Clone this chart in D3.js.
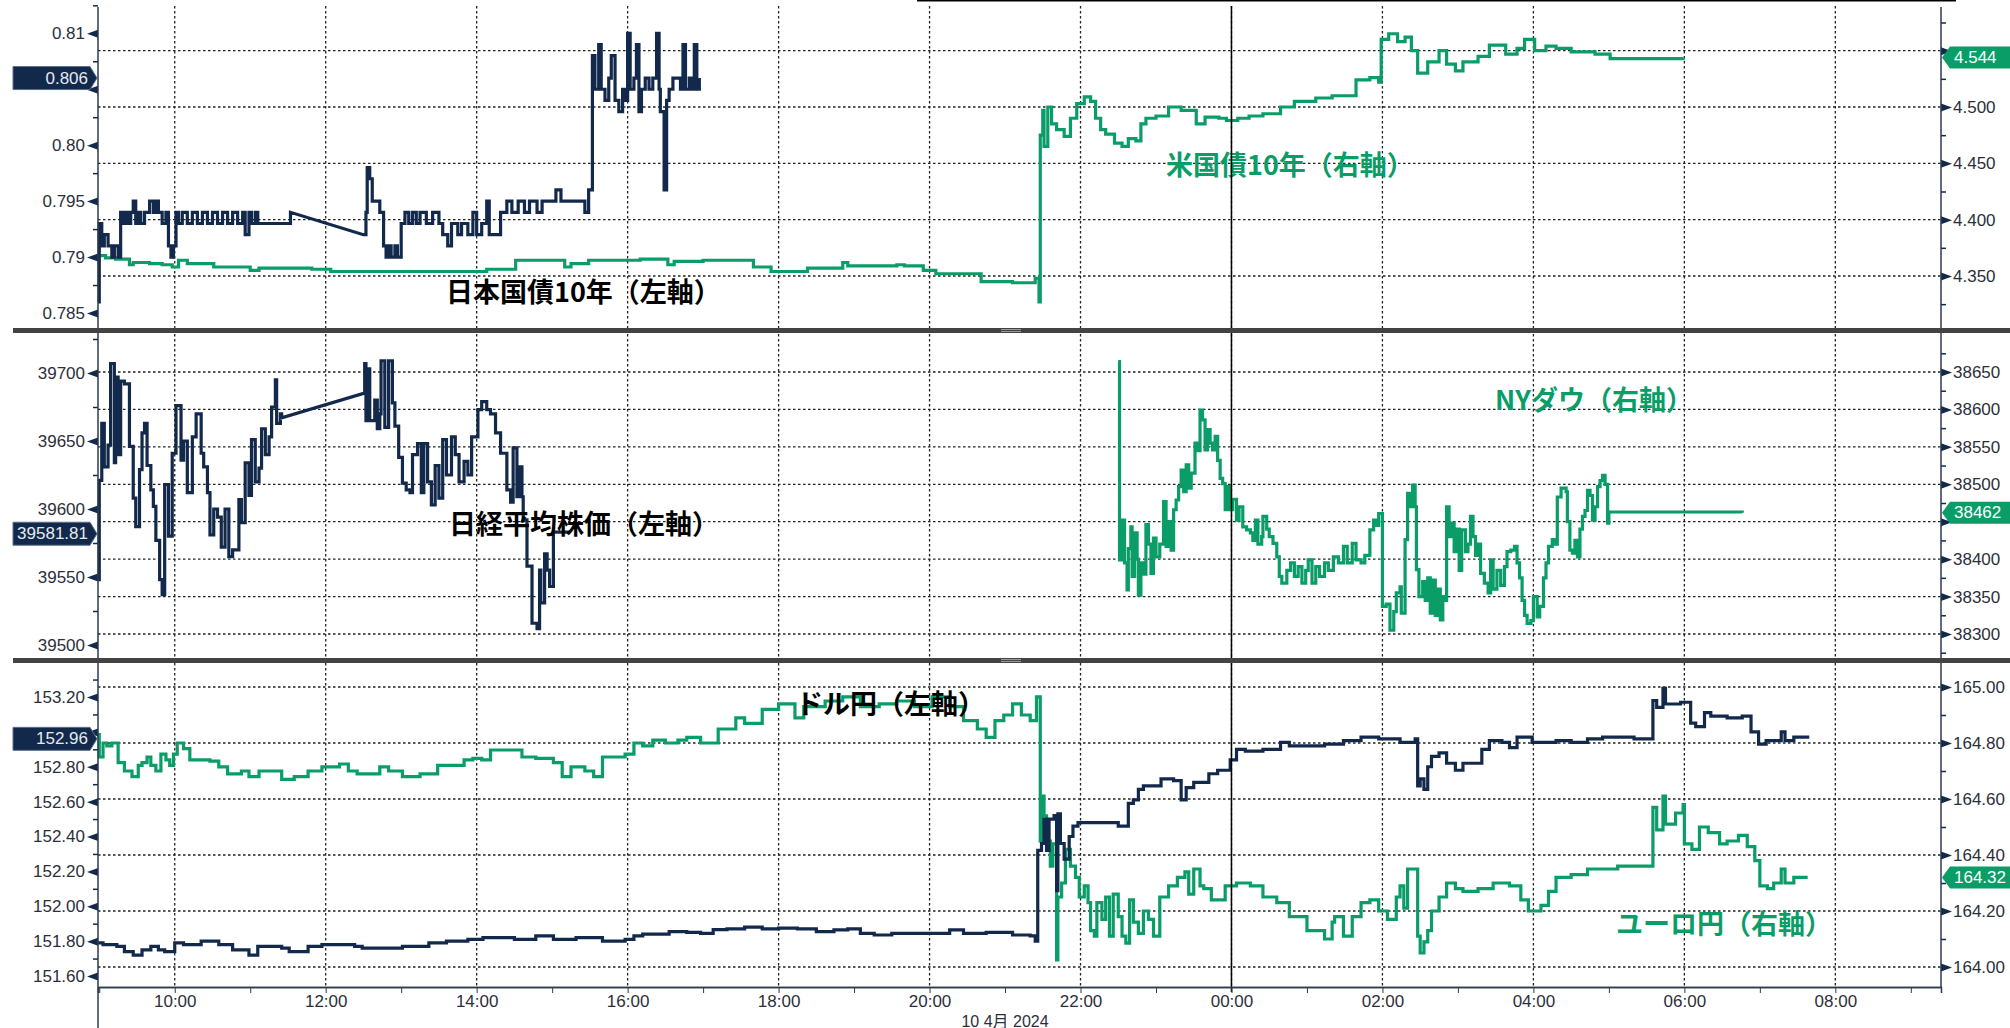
<!DOCTYPE html>
<html>
<head>
<meta charset="utf-8">
<script src="https://cdn.jsdelivr.net/npm/d3@7"></script>
<style>
  body { margin: 0; background: #fff; }
  svg text { font-family: "Liberation Sans", Arial, sans-serif; }
  .note { font-family: "Noto Sans CJK JP", sans-serif; font-weight: 700; font-size: 27px; }
</style>
</head>
<body>
<svg id="chart" width="2010" height="1028"></svg>
<script>
// 時刻は JST、日付をまたぐと翌日扱い
var jgb10y = [["08:59",0.786],["09:00",0.793],["09:02",0.791],["09:04",0.792],["09:07",0.791],["09:10",0.790],["09:12",0.791],["09:15",0.790],["09:17",0.794],["09:19",0.793],["09:21",0.794],["09:23",0.793],["09:25",0.794],["09:27",0.795],["09:29",0.793],["09:31",0.794],["09:33",0.793],["09:36",0.794],["09:40",0.795],["09:43",0.794],["09:45",0.795],["09:47",0.794],["09:50",0.793],["09:53",0.794],["09:55",0.791],["09:57",0.790],["09:59",0.791],["10:01",0.794],["10:03",0.793],["10:06",0.794],["10:10",0.793],["10:14",0.794],["10:18",0.793],["10:22",0.794],["10:26",0.793],["10:30",0.794],["10:34",0.793],["10:38",0.794],["10:42",0.793],["10:46",0.794],["10:50",0.793],["10:54",0.794],["10:56",0.792],["10:59",0.794],["11:01",0.793],["11:04",0.794],["11:06",0.793],["11:32",0.794],["12:30",0.792],["12:32",0.794],["12:33",0.798],["12:35",0.797],["12:37",0.795],["12:43",0.794],["12:46",0.791],["12:48",0.790],["12:50",0.791],["12:52",0.790],["12:55",0.791],["12:57",0.790],["13:00",0.793],["13:03",0.794],["13:06",0.793],["13:09",0.794],["13:12",0.793],["13:15",0.794],["13:20",0.793],["13:25",0.794],["13:30",0.793],["13:33",0.792],["13:37",0.791],["13:40",0.793],["13:45",0.792],["13:48",0.793],["13:53",0.792],["13:57",0.794],["14:00",0.792],["14:04",0.793],["14:08",0.795],["14:10",0.792],["14:19",0.794],["14:24",0.795],["14:28",0.794],["14:33",0.795],["14:38",0.794],["14:42",0.795],["14:48",0.794],["14:52",0.795],["15:03",0.796],["15:07",0.795],["15:26",0.794],["15:29",0.796],["15:32",0.808],["15:34",0.805],["15:37",0.809],["15:39",0.805],["15:42",0.804],["15:45",0.806],["15:47",0.808],["15:50",0.804],["15:53",0.803],["15:56",0.805],["15:58",0.804],["16:00",0.810],["16:02",0.805],["16:05",0.806],["16:07",0.809],["16:09",0.803],["16:11",0.805],["16:14",0.806],["16:17",0.805],["16:20",0.806],["16:23",0.810],["16:25",0.805],["16:26",0.803],["16:29",0.796],["16:31",0.804],["16:33",0.805],["16:36",0.806],["16:39",0.806],["16:42",0.805],["16:44",0.809],["16:46",0.805],["16:49",0.806],["16:51",0.805],["16:53",0.809],["16:55",0.805],["16:57",0.806]];

var ust10y = [["08:59",4.368],["09:05",4.366],["09:13",4.365],["09:24",4.360],["09:27",4.362],["09:40",4.361],["09:50",4.360],["09:58",4.358],["10:03",4.364],["10:10",4.361],["10:20",4.361],["10:31",4.358],["10:45",4.358],["11:00",4.355],["11:07",4.357],["11:30",4.357],["11:49",4.356],["12:04",4.354],["12:40",4.354],["13:30",4.354],["14:08",4.356],["14:31",4.364],["14:50",4.364],["15:10",4.358],["15:15",4.361],["15:29",4.364],["15:50",4.364],["16:10",4.365],["16:32",4.360],["16:37",4.363],["17:00",4.364],["17:20",4.364],["17:40",4.358],["17:54",4.354],["18:23",4.357],["18:51",4.362],["18:55",4.359],["19:34",4.360],["19:40",4.359],["19:55",4.355],["20:05",4.352],["20:41",4.345],["21:06",4.344],["21:24",4.348],["21:27",4.327],["21:28",4.475],["21:30",4.497],["21:31",4.465],["21:34",4.500],["21:37",4.485],["21:41",4.480],["21:47",4.474],["21:52",4.490],["21:57",4.503],["22:03",4.509],["22:08",4.505],["22:12",4.490],["22:16",4.480],["22:20",4.476],["22:27",4.468],["22:33",4.465],["22:38",4.472],["22:44",4.470],["22:48",4.485],["22:52",4.490],["23:00",4.492],["23:10",4.500],["23:20",4.497],["23:32",4.485],["23:39",4.491],["23:50",4.490],["23:56",4.488],["00:05",4.490],["00:14",4.492],["00:25",4.494],["00:39",4.500],["00:50",4.505],["01:07",4.508],["01:20",4.510],["01:39",4.524],["01:50",4.526],["01:57",4.522],["01:59",4.560],["02:05",4.565],["02:12",4.558],["02:18",4.562],["02:23",4.550],["02:28",4.530],["02:36",4.540],["02:45",4.550],["02:51",4.538],["02:58",4.532],["03:04",4.540],["03:16",4.545],["03:25",4.555],["03:38",4.547],["03:47",4.552],["03:53",4.560],["04:01",4.550],["04:10",4.554],["04:18",4.552],["04:30",4.549],["04:49",4.547],["05:01",4.543],["05:20",4.543],["05:51",4.543],["05:59",4.544]];

var nikkei = [["08:59",39548],["09:00",39621],["09:02",39663],["09:04",39631],["09:07",39647],["09:09",39707],["09:12",39634],["09:13",39697],["09:15",39640],["09:17",39694],["09:20",39692],["09:24",39646],["09:27",39608],["09:29",39587],["09:32",39629],["09:34",39656],["09:36",39663],["09:38",39632],["09:41",39614],["09:43",39602],["09:45",39577],["09:48",39548],["09:50",39537],["09:52",39618],["09:55",39580],["09:58",39641],["10:01",39676],["10:05",39636],["10:07",39650],["10:10",39612],["10:14",39653],["10:17",39670],["10:21",39641],["10:23",39631],["10:26",39612],["10:28",39581],["10:31",39600],["10:34",39594],["10:37",39572],["10:40",39600],["10:43",39565],["10:46",39570],["10:51",39607],["10:53",39590],["10:56",39634],["10:59",39610],["11:01",39651],["11:04",39620],["11:07",39630],["11:09",39659],["11:12",39640],["11:15",39653],["11:17",39675],["11:20",39695],["11:21",39663],["11:24",39670],["11:25",39667],["12:30",39685],["12:31",39707],["12:32",39665],["12:33",39703],["12:35",39665],["12:39",39680],["12:41",39659],["12:43",39670],["12:44",39709],["12:47",39660],["12:50",39709],["12:53",39678],["12:55",39661],["12:58",39638],["13:01",39619],["13:04",39614],["13:07",39612],["13:09",39640],["13:13",39648],["13:16",39612],["13:18",39648],["13:21",39620],["13:24",39603],["13:27",39632],["13:30",39608],["13:33",39651],["13:36",39625],["13:40",39653],["13:43",39640],["13:46",39620],["13:50",39635],["13:53",39625],["13:56",39653],["14:01",39673],["14:04",39679],["14:08",39673],["14:11",39670],["14:15",39656],["14:19",39641],["14:24",39614],["14:27",39605],["14:29",39645],["14:32",39609],["14:34",39631],["14:36",39609],["14:37",39592],["14:40",39558],["14:44",39516],["14:48",39512],["14:50",39555],["14:51",39531],["14:54",39567],["14:56",39555],["14:58",39543],["15:01",39583],["15:13",39581.81]];

var nyDow = [["22:30",38664],["22:31",38399],["22:33",38452],["22:35",38395],["22:37",38359],["22:38",38414],["22:40",38443],["22:41",38377],["22:43",38435],["22:45",38400],["22:46",38352],["22:48",38395],["22:50",38380],["22:52",38446],["22:54",38420],["22:56",38381],["22:58",38428],["23:00",38403],["23:03",38420],["23:06",38477],["23:08",38417],["23:10",38450],["23:12",38412],["23:14",38466],["23:16",38479],["23:18",38497],["23:20",38519],["23:22",38490],["23:24",38526],["23:26",38495],["23:28",38515],["23:31",38555],["23:33",38545],["23:35",38599],["23:37",38586],["23:39",38546],["23:41",38573],["23:43",38555],["23:45",38546],["23:47",38564],["23:49",38532],["23:51",38508],["23:53",38501],["23:55",38466],["23:57",38497],["23:59",38466],["00:01",38480],["00:04",38452],["00:06",38470],["00:09",38443],["00:12",38439],["00:15",38435],["00:17",38425],["00:19",38452],["00:21",38420],["00:24",38430],["00:25",38457],["00:28",38440],["00:30",38430],["00:33",38421],["00:36",38403],["00:38",38377],["00:40",38368],["00:44",38385],["00:47",38395],["00:50",38377],["00:53",38390],["00:56",38368],["00:59",38385],["01:01",38399],["01:04",38368],["01:07",38390],["01:10",38377],["01:14",38395],["01:17",38385],["01:21",38403],["01:25",38395],["01:29",38417],["01:32",38395],["01:36",38421],["01:39",38399],["01:43",38395],["01:46",38405],["01:50",38439],["01:53",38452],["01:55",38445],["01:57",38461],["02:00",38337],["02:03",38340],["02:06",38305],["02:09",38330],["02:11",38355],["02:14",38363],["02:15",38328],["02:18",38426],["02:20",38488],["02:22",38470],["02:24",38499],["02:26",38470],["02:27",38386],["02:29",38350],["02:32",38370],["02:34",38345],["02:36",38375],["02:38",38328],["02:40",38372],["02:42",38325],["02:44",38360],["02:46",38319],["02:48",38350],["02:50",38345],["02:51",38470],["02:53",38430],["02:55",38448],["02:57",38410],["02:59",38440],["03:01",38385],["03:03",38439],["03:06",38410],["03:08",38420],["03:10",38457],["03:12",38430],["03:14",38405],["03:16",38420],["03:18",38381],["03:21",38368],["03:24",38355],["03:26",38399],["03:28",38360],["03:31",38385],["03:34",38365],["03:37",38390],["03:39",38410],["03:42",38412],["03:45",38417],["03:47",38395],["03:49",38375],["03:51",38345],["03:53",38325],["03:55",38314],["03:58",38318],["04:00",38350],["04:03",38323],["04:05",38337],["04:08",38375],["04:10",38395],["04:12",38417],["04:15",38426],["04:17",38420],["04:19",38483],["04:22",38495],["04:26",38490],["04:27",38450],["04:29",38412],["04:31",38408],["04:33",38425],["04:35",38403],["04:37",38440],["04:39",38457],["04:41",38465],["04:43",38492],["04:45",38485],["04:47",38452],["04:49",38470],["04:51",38497],["04:53",38505],["04:55",38512],["04:57",38500],["04:59",38448],["05:00",38463],["06:46",38462]];

var usdJpy = [["08:59",151.79],["09:03",151.78],["09:14",151.77],["09:20",151.74],["09:27",151.72],["09:34",151.75],["09:41",151.77],["09:47",151.75],["09:52",151.74],["10:00",151.79],["10:07",151.78],["10:21",151.80],["10:35",151.78],["10:46",151.75],["10:59",151.72],["11:06",151.77],["11:25",151.76],["11:31",151.74],["11:46",151.77],["11:57",151.78],["12:23",151.77],["12:29",151.76],["13:01",151.77],["13:22",151.79],["13:36",151.80],["13:53",151.81],["14:05",151.82],["14:30",151.81],["14:47",151.83],["15:01",151.81],["15:19",151.82],["15:40",151.80],["15:58",151.81],["16:05",151.83],["16:12",151.84],["16:33",151.855],["16:47",151.85],["16:58",151.845],["17:08",151.866],["17:19",151.87],["17:33",151.88],["17:47",151.87],["18:00",151.875],["18:15",151.87],["18:30",151.855],["18:44",151.865],["18:55",151.87],["19:05",151.845],["19:16",151.835],["19:30",151.845],["20:00",151.845],["20:16",151.865],["20:27",151.845],["20:45",151.85],["21:06",151.835],["21:20",151.83],["21:24",151.80],["21:26",152.32],["21:29",152.36],["21:31",152.50],["21:33",152.32],["21:35",152.50],["21:39",152.52],["21:41",152.09],["21:42",152.53],["21:44",152.36],["21:47",152.27],["21:51",152.40],["21:54",152.46],["21:58",152.48],["22:10",152.48],["22:30",152.46],["22:38",152.59],["22:42",152.61],["22:46",152.67],["22:50",152.69],["23:04",152.73],["23:14",152.72],["23:20",152.61],["23:24",152.68],["23:30",152.71],["23:42",152.76],["23:49",152.78],["23:59",152.84],["00:04",152.90],["00:11",152.89],["00:25",152.90],["00:39",152.94],["00:46",152.92],["01:14",152.93],["01:29",152.95],["01:43",152.97],["01:57",152.96],["02:14",152.94],["02:26",152.96],["02:28",152.69],["02:30",152.73],["02:33",152.67],["02:36",152.80],["02:39",152.86],["02:45",152.88],["02:51",152.82],["02:58",152.78],["03:04",152.82],["03:19",152.90],["03:25",152.95],["03:35",152.94],["03:41",152.91],["03:47",152.97],["03:59",152.94],["04:18",152.95],["04:30",152.94],["04:43",152.96],["04:55",152.97],["05:20",152.96],["05:35",153.18],["05:38",153.14],["05:43",153.25],["05:45",153.16],["05:57",153.17],["06:05",153.05],["06:09",153.03],["06:16",153.11],["06:21",153.09],["06:34",153.08],["06:46",153.09],["06:53",153.00],["06:59",152.93],["07:05",152.95],["07:17",153.00],["07:20",152.95],["07:27",152.97],["07:38",152.96]];

var eurJpy = [["08:59",164.83],["09:00",164.75],["09:03",164.80],["09:06",164.79],["09:10",164.80],["09:15",164.73],["09:20",164.70],["09:26",164.68],["09:31",164.72],["09:34",164.73],["09:38",164.75],["09:41",164.72],["09:45",164.70],["09:49",164.76],["09:53",164.74],["09:56",164.72],["09:59",164.76],["10:02",164.80],["10:07",164.78],["10:12",164.74],["10:28",164.735],["10:35",164.715],["10:42",164.69],["10:53",164.70],["10:59",164.68],["11:07",164.70],["11:25",164.67],["11:35",164.68],["11:46",164.70],["11:57",164.715],["12:11",164.725],["12:18",164.70],["12:25",164.69],["12:43",164.715],["12:50",164.70],["13:01",164.68],["13:15",164.69],["13:29",164.72],["13:50",164.74],["13:57",164.745],["14:04",164.74],["14:11",164.775],["14:36",164.75],["14:47",164.745],["15:01",164.73],["15:08",164.68],["15:15",164.715],["15:26",164.70],["15:33",164.68],["15:40",164.75],["15:58",164.76],["16:05",164.80],["16:12",164.79],["16:20",164.81],["16:30",164.80],["16:40",164.81],["16:47",164.82],["16:58",164.80],["17:12",164.85],["17:26",164.89],["17:33",164.87],["17:47",164.92],["18:00",164.94],["18:13",164.89],["18:20",164.93],["18:37",164.95],["18:51",164.965],["19:05",164.93],["19:20",164.94],["19:34",164.95],["19:48",164.93],["20:02",164.965],["20:16",164.93],["20:27",164.88],["20:38",164.85],["20:45",164.82],["20:52",164.88],["20:59",164.90],["21:06",164.94],["21:13",164.90],["21:20",164.88],["21:25",164.965],["21:28",164.45],["21:29",164.61],["21:31",164.54],["21:33",164.45],["21:36",164.36],["21:38",164.44],["21:41",164.025],["21:42",164.25],["21:45",164.30],["21:48",164.42],["21:52",164.36],["21:56",164.32],["21:59",164.25],["22:03",164.29],["22:06",164.23],["22:08",164.13],["22:11",164.11],["22:13",164.23],["22:17",164.17],["22:20",164.25],["22:23",164.11],["22:26",164.26],["22:30",164.18],["22:33",164.11],["22:36",164.085],["22:39",164.24],["22:42",164.16],["22:46",164.12],["22:50",164.20],["22:54",164.17],["22:58",164.11],["23:03",164.25],["23:10",164.29],["23:17",164.32],["23:23",164.34],["23:26",164.26],["23:30",164.35],["23:35",164.29],["23:38",164.28],["23:44",164.24],["23:55",164.29],["00:04",164.30],["00:15",164.29],["00:25",164.25],["00:36",164.23],["00:46",164.18],["01:00",164.13],["01:14",164.10],["01:20",164.16],["01:22",164.18],["01:29",164.11],["01:36",164.18],["01:43",164.23],["01:50",164.24],["01:57",164.20],["02:04",164.17],["02:11",164.25],["02:14",164.29],["02:17",164.21],["02:20",164.35],["02:28",164.11],["02:30",164.05],["02:33",164.09],["02:36",164.13],["02:39",164.20],["02:45",164.25],["02:51",164.30],["02:58",164.28],["03:04",164.27],["03:16",164.28],["03:28",164.30],["03:41",164.29],["03:50",164.24],["03:56",164.20],["04:06",164.22],["04:12",164.27],["04:18",164.32],["04:30",164.33],["04:43",164.35],["05:07",164.36],["05:35",164.57],["05:38",164.49],["05:43",164.61],["05:45",164.51],["05:53",164.55],["05:59",164.58],["06:00",164.44],["06:06",164.42],["06:12",164.50],["06:19",164.48],["06:28",164.44],["06:34",164.45],["06:43",164.47],["06:50",164.43],["06:56",164.38],["07:00",164.29],["07:06",164.28],["07:11",164.30],["07:17",164.35],["07:20",164.30],["07:27",164.32],["07:38",164.32]];

// 目盛り
var leftTicks  = [[0.785,0.79,0.795,0.80,0.805,0.81],[39500,39550,39600,39650,39700],[151.6,151.8,152.0,152.2,152.4,152.6,152.8,153.0,153.2]];
var leftMinor  = [[0.7875,0.7925,0.7975,0.8025,0.8075,0.8125],[39525,39575,39625,39675,39725],[151.7,151.9,152.1,152.3,152.5,152.7,152.9,153.1,153.3]];
var rightTicks = [[4.35,4.40,4.45,4.50,4.55],[38300,38350,38400,38450,38500,38550,38600,38650],[164.0,164.2,164.4,164.6,164.8,165.0]];
var rightMinor = [[4.325,4.375,4.425,4.475,4.525,4.575],[38275,38325,38375,38425,38475,38525,38575,38625,38675],[164.1,164.3,164.5,164.7,164.9]];
var lastLeft  = ["0.806", "39581.81", "152.96"];
var lastRight = ["4.544", "38462", "164.32"];
var notes = [
  ["日本国債10年（左軸）", "#000"], ["米国債10年（右軸）", "green"],
  ["日経平均株価（左軸）", "#000"], ["NYダウ（右軸）", "green"],
  ["ドル円（左軸）", "#000"], ["ユーロ円（右軸）", "green"]
];

var NAVY = "#13294b", GREEN = "#0a9d68", TEXT = "#2c2f3a";
var svg = d3.select("#chart");
var X0 = 98, X1 = 1941;

function parseSeries(rows) {
  var day = 10, prev = -1;
  return rows.map(function (r) {
    var hm = r[0].split(":").map(Number), m = hm[0] * 60 + hm[1];
    if (m < prev) day += 1;
    prev = m;
    return { t: new Date(2024, 3, day, hm[0], hm[1]), v: r[1] };
  });
}

var x = d3.scaleTime()
  .domain([new Date(2024, 3, 10, 8, 59), new Date(2024, 3, 11, 9, 24)])
  .range([X0, X1]);

// パネル: 上端, 下端, 左軸・右軸のスケール
var panels = [
  { top: 6, bottom: 328,
    yL: d3.scaleLinear().domain([0.785, 0.81]).range([313, 33.3]),
    yR: d3.scaleLinear().domain([4.35, 4.50]).range([276, 107]),
    left: jgb10y, right: ust10y, diag: 45, fmtL: function (v) { var s = v.toFixed(3); return s.slice(-1) === "0" ? v.toFixed(2) : s; }, fmtR: d3.format(".3f"),
    noteL: [446, 290], noteR: [1166, 163] },
  { top: 334, bottom: 658,
    yL: d3.scaleLinear().domain([39500, 39700]).range([645, 373]),
    yR: d3.scaleLinear().domain([38300, 38650]).range([634, 372]),
    left: nikkei, right: nyDow, diag: 45, fmtL: d3.format("d"), fmtR: d3.format("d"),
    noteL: [449, 522], noteR: [1495, 398] },
  { top: 663, bottom: 987,
    yL: d3.scaleLinear().domain([151.6, 153.2]).range([976, 697]),
    yR: d3.scaleLinear().domain([164.0, 165.0]).range([967, 687]),
    left: usdJpy, right: eurJpy, diag: 0, fmtL: d3.format(".2f"), fmtR: d3.format(".2f"),
    noteL: [796, 702], noteR: [1616, 922] }
];

function stepPath(pts, y, diagGap) {
  var out = [];
  pts.forEach(function (p, i) {
    out.push([x(p.t), y(p.v)]);
    var n = pts[i + 1];
    if (n && !(diagGap && (n.t - p.t) > diagGap * 60000)) out.push([x(n.t), y(p.v)]);
  });
  return d3.line()(out);
}

var hourTicks = x.ticks(d3.timeHour.every(2));
var grid = svg.append("g");
var plot = svg.append("g");
var axes = svg.append("g");

panels.forEach(function (p, i) {
  var yl = p.yL(+lastLeft[i]), yr = p.yR(+lastRight[i]);

  // グリッド
  hourTicks.forEach(function (t) {
    grid.append("line").attr("x1", x(t)).attr("x2", x(t)).attr("y1", p.top).attr("y2", p.bottom)
      .attr("stroke", "#222").attr("stroke-width", 1.3).attr("stroke-dasharray", "2.5,2.5");
  });
  rightTicks[i].forEach(function (v) {
    grid.append("line").attr("x1", X0).attr("x2", X1).attr("y1", p.yR(v)).attr("y2", p.yR(v))
      .attr("stroke", "#222").attr("stroke-width", 1.3).attr("stroke-dasharray", "2.5,2.5");
  });

  // 系列
  plot.append("path").attr("d", stepPath(parseSeries(p.right), p.yR, 0))
    .attr("fill", "none").attr("stroke", GREEN).attr("stroke-width", 3.2);
  plot.append("path").attr("d", stepPath(parseSeries(p.left), p.yL, p.diag))
    .attr("fill", "none").attr("stroke", NAVY).attr("stroke-width", 3.2);

  // 注記
  var nl = notes[i * 2], nr = notes[i * 2 + 1];
  plot.append("text").attr("class", "note").attr("x", p.noteL[0]).attr("y", p.noteL[1])
    .attr("dominant-baseline", "central").attr("fill", nl[1] === "green" ? GREEN : nl[1]).text(nl[0]);
  plot.append("text").attr("class", "note").attr("x", p.noteR[0]).attr("y", p.noteR[1])
    .attr("dominant-baseline", "central").attr("fill", nr[1] === "green" ? GREEN : nr[1]).text(nr[0]);

  // 左軸（タグに隠れる目盛り文字は出さない）
  var gl = axes.append("g").attr("transform", "translate(" + X0 + ",0)");
  gl.call(d3.axisLeft(p.yL).tickValues(leftMinor[i]).tickSize(5).tickFormat(""));
  gl.append("g").call(d3.axisLeft(p.yL).tickValues(leftTicks[i]).tickSize(0).tickPadding(13)
      .tickFormat(function (v) { return Math.abs(p.yL(v) - yl) < 14 ? "" : p.fmtL(v); }))
    .call(function (g) { g.selectAll(".tick").append("path").attr("d", "M0,-4L-11,0L0,4Z").attr("fill", NAVY); });
  gl.selectAll(".domain").remove();
  gl.selectAll(".tick line").attr("stroke", NAVY).attr("stroke-width", 1.5);
  gl.selectAll("text").attr("font-size", 17).attr("fill", TEXT);

  // 右軸
  var gr = axes.append("g").attr("transform", "translate(" + X1 + ",0)");
  gr.call(d3.axisRight(p.yR).tickValues(rightMinor[i]).tickSize(5).tickFormat(""));
  gr.append("g").call(d3.axisRight(p.yR).tickValues(rightTicks[i]).tickSize(0).tickPadding(12)
      .tickFormat(function (v) { return Math.abs(p.yR(v) - yr) < 14 ? "" : p.fmtR(v); }))
    .call(function (g) { g.selectAll(".tick").append("path").attr("d", "M0,-4L11,0L0,4Z").attr("fill", NAVY); });
  gr.selectAll(".domain").remove();
  gr.selectAll(".tick line").attr("stroke", NAVY).attr("stroke-width", 1.5);
  gr.selectAll("text").attr("font-size", 17).attr("fill", TEXT);

  // 最新値タグ
  axes.append("path").attr("d", "M13," + (yl - 11.5) + "H90L97," + yl + "L90," + (yl + 11.5) + "H13Z")
    .attr("fill", NAVY).attr("stroke", "#5a6f8c").attr("stroke-width", 1);
  axes.append("text").attr("x", 88).attr("y", yl).attr("dominant-baseline", "central").attr("text-anchor", "end")
    .attr("font-size", 17).attr("fill", "#e3e9f0").text(lastLeft[i]);
  axes.append("path").attr("d", "M1942," + yr + "L1950," + (yr - 11) + "H2012V" + (yr + 11) + "H1950Z")
    .attr("fill", GREEN);
  axes.append("text").attr("x", 1954).attr("y", yr).attr("dominant-baseline", "central")
    .attr("font-size", 17).attr("fill", "#fff").text(lastRight[i]);
});

// 0:00 の日付区切り線
axes.append("line").attr("x1", x(new Date(2024, 3, 11, 0, 0))).attr("x2", x(new Date(2024, 3, 11, 0, 0)))
  .attr("y1", 6).attr("y2", 992).attr("stroke", "#000").attr("stroke-width", 1.5);

// 軸線
axes.append("line").attr("x1", X0).attr("x2", X0).attr("y1", 7).attr("y2", 1028).attr("stroke", "#2d3b4f").attr("stroke-width", 1.5);
axes.append("line").attr("x1", X1).attr("x2", X1).attr("y1", 7).attr("y2", 987).attr("stroke", "#2d3b4f").attr("stroke-width", 1.5);

// 時間軸
var gx = axes.append("g").attr("transform", "translate(0,987)");
gx.call(d3.axisBottom(x).ticks(d3.timeHour.every(1)).tickSize(6).tickFormat(""));
gx.append("g").call(d3.axisBottom(x).tickValues(hourTicks).tickSize(0).tickPadding(8).tickFormat(d3.timeFormat("%H:%M")));
gx.selectAll(".domain").attr("stroke", "#2d3b4f").attr("stroke-width", 1.5);
gx.selectAll(".tick line").attr("stroke", "#2d3b4f");
gx.selectAll("text").attr("font-size", 17).attr("fill", TEXT);
axes.append("text").attr("x", x(new Date(2024, 3, 10, 21, 0))).attr("y", 1021).attr("text-anchor", "middle")
  .attr("dominant-baseline", "central").attr("font-size", 16).attr("fill", TEXT)
  .style("font-family", "'Liberation Sans', 'Noto Sans CJK JP', sans-serif").text("10 4月 2024");

// パネル区切り
[328, 658].forEach(function (y) {
  axes.append("rect").attr("x", 13).attr("y", y).attr("width", 1997).attr("height", 5).attr("fill", "#434343");
  axes.append("rect").attr("x", 1001).attr("y", y + 1).attr("width", 20).attr("height", 1).attr("fill", "#9a9a9a");
  axes.append("rect").attr("x", 1001).attr("y", y + 3).attr("width", 20).attr("height", 1).attr("fill", "#9a9a9a");
});
axes.append("line").attr("x1", 917).attr("x2", 1956).attr("y1", 0.75).attr("y2", 0.75).attr("stroke", "#000").attr("stroke-width", 1.5);
</script>
</body>
</html>
